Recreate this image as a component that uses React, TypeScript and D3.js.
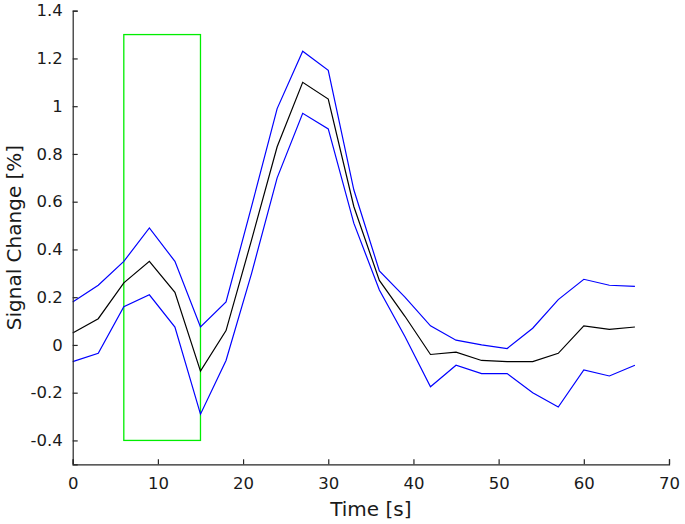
import React, { useRef, useEffect } from 'react';
import * as d3 from 'd3';

const time = [0, 3, 6, 9, 12, 15, 18, 21, 24, 27, 30, 33, 36, 39, 42, 45, 48, 51, 54, 57, 60, 63, 66];
const meanSignal = [0.05, 0.11, 0.26, 0.35, 0.22, -0.11, 0.06, 0.44, 0.83, 1.1, 1.03, 0.58, 0.27, 0.12, -0.04, -0.03, -0.065, -0.07, -0.07, -0.035, 0.08, 0.065, 0.075];
const upperSignal = [0.18, 0.25, 0.35, 0.49, 0.35, 0.075, 0.18, 0.58, 0.99, 1.23, 1.15, 0.65, 0.31, 0.2, 0.08, 0.02, 0.0, -0.015, 0.07, 0.19, 0.275, 0.25, 0.245];
const lowerSignal = [-0.07, -0.035, 0.16, 0.21, 0.075, -0.29, -0.065, 0.3, 0.7, 0.97, 0.905, 0.51, 0.23, 0.035, -0.175, -0.085, -0.12, -0.12, -0.2, -0.26, -0.105, -0.13, -0.085];
const stimulus = { start: 6, end: 15, low: -0.4, high: 1.3 };
const xTicks = [0, 10, 20, 30, 40, 50, 60, 70];
const yTicks = [-0.4, -0.2, 0, 0.2, 0.4, 0.6, 0.8, 1, 1.2, 1.4];

const App: React.FC = () => {
  const svgRef = useRef<SVGSVGElement>(null);

  useEffect(() => {
    if (!svgRef.current) return;
    const svg = d3.select(svgRef.current);
    svg.selectAll('*').remove();

    const width = 685;
    const height = 524;
    const margin = { left: 72.7, right: 16, top: 10.7, bottom: 59.7 };

    const x = d3.scaleLinear().domain([0, 70]).range([margin.left, width - margin.right]);
    const y = d3.scaleLinear().domain([-0.5, 1.4]).range([height - margin.bottom, margin.top]);

    const font = 'DejaVu Sans, sans-serif';
    const axisColor = '#262626';

    // stimulus box
    svg.append('rect')
      .attr('x', x(stimulus.start))
      .attr('y', y(stimulus.high))
      .attr('width', x(stimulus.end) - x(stimulus.start))
      .attr('height', y(stimulus.low) - y(stimulus.high))
      .attr('fill', 'none')
      .attr('stroke', '#00ee00')
      .attr('stroke-width', 1.3);

    const line = (vals: number[]) =>
      d3.line<number>()
        .x((_, i) => x(time[i]))
        .y(d => y(d))(vals);

    [
      { vals: upperSignal, color: '#0000ff' },
      { vals: lowerSignal, color: '#0000ff' },
      { vals: meanSignal, color: '#000000' },
    ].forEach(s => {
      svg.append('path')
        .attr('d', line(s.vals) as string)
        .attr('fill', 'none')
        .attr('stroke', s.color)
        .attr('stroke-width', 1.2);
    });

    // axes (plain hyphen for negatives, like the original)
    const fmt = (d: d3.NumberValue) => String(+(+d).toFixed(1));

    const xAxis = d3.axisBottom(x).tickValues(xTicks).tickSize(-5).tickPadding(13).tickFormat(fmt);
    const gx = svg.append('g')
      .attr('transform', `translate(0,${y(-0.5)})`)
      .call(xAxis);

    const yAxis = d3.axisLeft(y).tickValues(yTicks).tickSize(-5).tickPadding(10).tickFormat(fmt);
    const gy = svg.append('g')
      .attr('transform', `translate(${x(0)},0)`)
      .call(yAxis);

    [gx, gy].forEach(g => {
      g.select('.domain').attr('stroke', axisColor).attr('stroke-width', 1.2);
      g.selectAll('.tick line').attr('stroke', axisColor).attr('stroke-width', 1.2);
      g.selectAll('.tick text')
        .attr('fill', '#1a1a1a')
        .style('font-family', font)
        .style('font-size', '16.5px');
    });

    svg.append('text')
      .attr('x', (x(0) + x(70)) / 2)
      .attr('y', 516)
      .attr('text-anchor', 'middle')
      .attr('fill', '#1a1a1a')
      .style('font-family', font)
      .style('font-size', '20px')
      .text('Time [s]');

    svg.append('text')
      .attr('transform', `translate(21,${(y(-0.5) + y(1.4)) / 2}) rotate(-90)`)
      .attr('text-anchor', 'middle')
      .attr('fill', '#1a1a1a')
      .style('font-family', font)
      .style('font-size', '20px')
      .text('Signal Change [%]');
  }, []);

  return (
    <svg
      ref={svgRef}
      width={685}
      height={524}
      style={{ position: 'absolute', left: 0, top: 0, background: '#fff' }}
    />
  );
};

export default App;
